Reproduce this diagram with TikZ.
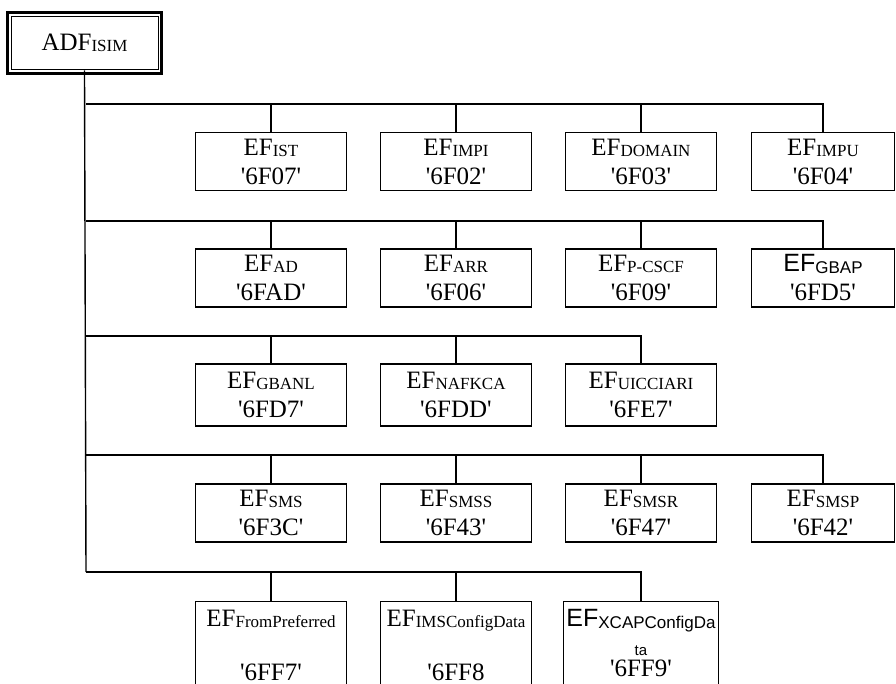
\documentclass[tikz,border=0pt]{standalone}
\usepackage{fontspec}
\newfontfamily\serf{Liberation Serif}
\newfontfamily\sansf{Liberation Sans}
\usetikzlibrary{positioning}

\newcommand{\subtxt}[1]{\raisebox{-0.1ex}{\fontsize{8.5}{9}\selectfont #1}}

\tikzset{
  efbox/.style={draw, line width=0.7pt, minimum width=75.5pt, minimum height=29pt,
    align=center, inner sep=1.5pt, font=\serf\fontsize{12.5}{14.5}\selectfont},
  lastbox/.style={efbox, anchor=north, inner ysep=4pt},
  rootbox/.style={draw, line width=0.5pt, minimum width=73.5pt, minimum height=26.75pt,
    font=\serf\fontsize{12.5}{14}\selectfont},
  bus/.style={line width=0.7pt},
}

\begin{document}
\begin{tikzpicture}[x=0.5pt, y=-0.5pt]
\useasboundingbox (0,0) rectangle (896,684);
\clip (0,0) rectangle (896,684);

% root
\node[rootbox] (adf) at (84.5,43.25) {ADF\subtxt{ISIM}};
\draw[line width=1.5pt] ([shift={(-3,-3)}]adf.north west) rectangle ([shift={(3,3)}]adf.south east);

% bus rows
\coordinate (r1) at (86,104);
\coordinate (r2) at (86,221);
\coordinate (r3) at (86,336);
\coordinate (r4) at (86,455);
\coordinate (r5) at (86,572);

% row 1
\node[efbox] (ist) at (271,161.5) {EF\subtxt{IST}\\'6F07'};
\node[efbox] (impi) at (456,161.5) {EF\subtxt{IMPI}\\'6F02'};
\node[efbox] (domain) at (641,161.5) {EF\subtxt{DOMAIN}\\'6F03'};
\node[efbox, minimum width=71.5pt] (impu) at (823,161.5) {EF\subtxt{IMPU}\\'6F04'};

% row 2
\node[efbox] (ad) at (271,278) {EF\subtxt{AD}\\'6FAD'};
\node[efbox] (arr) at (456,278) {EF\subtxt{ARR}\\'6F06'};
\node[efbox] (pcscf) at (641,278) {EF\subtxt{P-CSCF}\\'6F09'};
\node[efbox, minimum width=71.5pt] (gbap) at (823,278) {{\sansf EF\subtxt{GBAP}}\\'6FD5'};

% row 3
\node[efbox, minimum height=31pt] (gbanl) at (271,395) {EF\subtxt{GBANL}\\'6FD7'};
\node[efbox, minimum height=31pt] (nafkca) at (456,395) {EF\subtxt{NAFKCA}\\'6FDD'};
\node[efbox, minimum height=31pt] (uicciari) at (641,395) {EF\subtxt{UICCIARI}\\'6FE7'};

% row 4
\node[efbox] (sms) at (271,513) {EF\subtxt{SMS}\\'6F3C'};
\node[efbox] (smss) at (456,513) {EF\subtxt{SMSS}\\'6F43'};
\node[efbox] (smsr) at (641,513) {EF\subtxt{SMSR}\\'6F47'};
\node[efbox, minimum width=71.5pt] (smsp) at (823,513) {EF\subtxt{SMSP}\\'6F42'};

% row 5
\node[lastbox] (frompref) at (271,601) {EF\subtxt{FromPreferred}\\[12.5pt]'6FF7'};
\node[lastbox] (imscfg) at (456,601) {EF\subtxt{IMSConfigData}\\[12.5pt]'6FF8};
\node[lastbox, text depth=10pt] (xcapcfg) at (641,601) {{\sansf EF\subtxt{XCAPConfigDa}}\\{\sansf\fontsize{7.5}{8}\selectfont ta}\\[-4pt]'6FF9'};

% connectors
\draw[bus] (adf.south) -- (r5);
\draw[bus] (r1) -| (ist.north);
\draw[bus] (r1) -| (impi.north);
\draw[bus] (r1) -| (domain.north);
\draw[bus] (r1) -| (impu.north);
\draw[bus] (r2) -| (ad.north);
\draw[bus] (r2) -| (arr.north);
\draw[bus] (r2) -| (pcscf.north);
\draw[bus] (r2) -| (gbap.north);
\draw[bus] (r3) -| (gbanl.north);
\draw[bus] (r3) -| (nafkca.north);
\draw[bus] (r3) -| (uicciari.north);
\draw[bus] (r4) -| (sms.north);
\draw[bus] (r4) -| (smss.north);
\draw[bus] (r4) -| (smsr.north);
\draw[bus] (r4) -| (smsp.north);
\draw[bus] (r5) -| (frompref.north);
\draw[bus] (r5) -| (imscfg.north);
\draw[bus] (r5) -| (xcapcfg.north);
\end{tikzpicture}
\end{document}
